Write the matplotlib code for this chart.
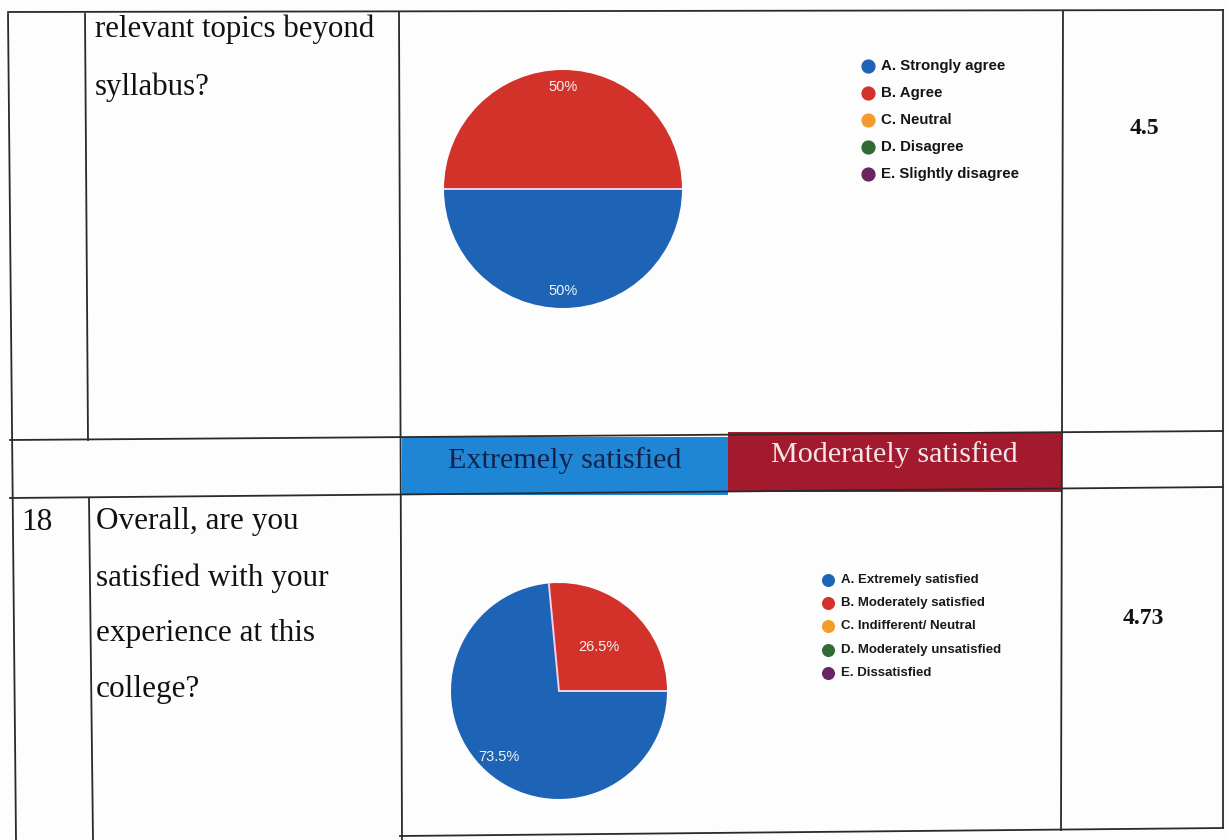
import matplotlib.pyplot as plt
import numpy as np

##### Data
q17_labels = ["A. Strongly agree", "B. Agree", "C. Neutral", "D. Disagree", "E. Slightly disagree"]
q17_values = [50, 50, 0, 0, 0]
q17_text = ["relevant topics beyond", "syllabus?"]
q17_score = "4.5"

q18_labels = ["A. Extremely satisfied", "B. Moderately satisfied", "C. Indifferent/ Neutral",
              "D. Moderately unsatisfied", "E. Dissatisfied"]
q18_values = [73.5, 26.5, 0, 0, 0]
q18_text = ["Overall, are you", "satisfied with your", "experience at this", "college?"]
q18_score = "4.73"
q18_number = "18"

banner_labels = ["Extremely satisfied", "Moderately satisfied"]

pie_colors = ["#1d63b6", "#d2322a", "#f59a2c", "#2f6b34", "#6a2462"]

W, H = 1227, 840
fig = plt.figure(figsize=(W / 100, H / 100), dpi=100)
fig.patch.set_facecolor("#fdfdfd")

### Page / table layer in pixel coordinates
ax = fig.add_axes([0, 0, 1, 1])
ax.set_xlim(0, W)
ax.set_ylim(H, 0)
ax.axis("off")

lw = 1.3
lc = "#2a2a2a"
# horizontal rules
ax.plot([8, 1223], [12, 10], color=lc, lw=lw)
ax.plot([10, 1223], [440, 431], color=lc, lw=lw)
ax.plot([10, 1223], [498, 487], color=lc, lw=lw)
ax.plot([400, 1223], [836, 828], color=lc, lw=lw)
# vertical rules
ax.plot([8, 16], [14, 840], color=lc, lw=lw)
ax.plot([85, 88], [14, 440], color=lc, lw=lw)
ax.plot([89, 93], [498, 840], color=lc, lw=lw)
ax.plot([399, 402], [12, 840], color=lc, lw=lw)
ax.plot([1063, 1061], [11, 830], color=lc, lw=lw)
ax.plot([1223, 1223], [10, 828], color=lc, lw=lw)

serif = "Liberation Serif"
sans = "Liberation Sans"

# question text
for i, line in enumerate(q17_text):
    ax.text(95, 29 + i * 58, line, family=serif, fontsize=22.2, va="center", ha="left", color="#111111")
for i, line in enumerate(q18_text):
    ax.text(96, 522 + i * 56, line, family=serif, fontsize=22.5, va="center", ha="left", color="#111111")
ax.text(37, 522, q18_number, family=serif, fontsize=22.5, va="center", ha="center", color="#111111")

# scores
ax.text(1144, 128, q17_score, family=serif, fontsize=17, weight="bold", va="center", ha="center", color="#111111")
ax.text(1143, 619, q18_score, family=serif, fontsize=17, weight="bold", va="center", ha="center", color="#111111")

# coloured banner
ax.add_patch(plt.Rectangle((402, 437), 326, 58, facecolor="#1f86d6", edgecolor="none"))
ax.add_patch(plt.Rectangle((728, 432), 333, 60, facecolor="#a3192d", edgecolor="none"))
ax.text(565, 461, banner_labels[0], family=serif, fontsize=21.7, va="center", ha="center", color="#14224a")
ax.text(894, 455, banner_labels[1], family=serif, fontsize=21.7, va="center", ha="center", color="#f4e6ea")

# legends
for i, lab in enumerate(q17_labels):
    y = 66 + i * 27
    ax.scatter(868, y, s=85, color=pie_colors[i], zorder=3)
    ax.text(881, y, lab, family=sans, fontsize=10.8, weight="bold", va="center", ha="left", color="#151515")
for i, lab in enumerate(q18_labels):
    y = 580 + i * 23.2
    ax.scatter(828, y, s=70, color=pie_colors[i], zorder=3)
    ax.text(841, y, lab, family=sans, fontsize=9.5, weight="bold", va="center", ha="left", color="#1a1a1a")


##### Pie charts
def draw_pie(values, cx, cy, r, radii):
    pax = fig.add_axes([(cx - r) / W, 1 - (cy + r) / H, 2 * r / W, 2 * r / H])
    vals = [v for v in values if v > 0]
    cols = [pie_colors[i] for i, v in enumerate(values) if v > 0]
    wedges, _ = pax.pie(vals, colors=cols, startangle=0, counterclock=False,
                        wedgeprops={"edgecolor": "none"})
    # thin light separators between slices
    for w in wedges:
        a = np.deg2rad(w.theta1)
        pax.plot([0, np.cos(a)], [0, np.sin(a)], color="#f3cfe6", lw=1.4)
    for w, v, d in zip(wedges, vals, radii):
        ang = np.deg2rad((w.theta1 + w.theta2) / 2)
        pax.text(d * np.cos(ang), d * np.sin(ang), f"{v:.3g}%", family=sans, fontsize=10.5,
                 ha="center", va="center", color="#f2f2f2")
    pax.set_xlim(-1, 1)
    pax.set_ylim(-1, 1)
    pax.set_aspect("equal")
    pax.axis("off")
    return pax


draw_pie(q17_values, 563, 189, 119, [0.86, 0.86])
draw_pie(q18_values, 559, 691, 108, [0.83, 0.55])

fig.savefig("out.png", dpi=100, facecolor=fig.get_facecolor())
